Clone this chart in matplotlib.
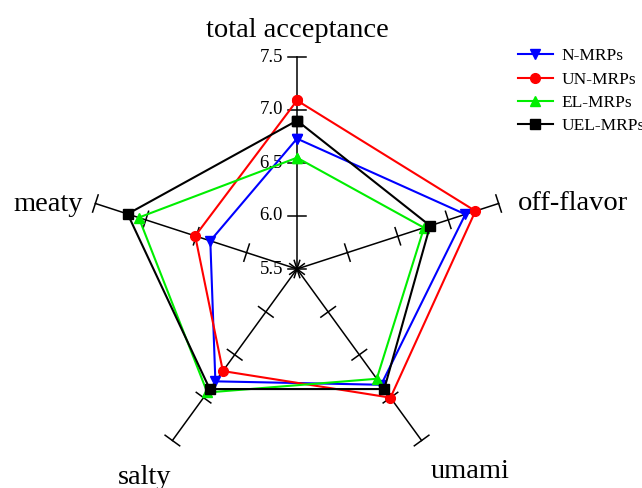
import numpy as np
import matplotlib
matplotlib.use("Agg")
import matplotlib.pyplot as plt

plt.rcParams['font.family'] = ['Liberation Serif', 'DejaVu Serif']

# data
attributes = ["total acceptance", "off-flavor", "umami", "salty", "meaty"]
n_mrps = [6.73, 7.17, 6.85, 6.81, 6.36]
un_mrps = [7.09, 7.27, 7.00, 6.69, 6.51]
el_mrps = [6.55, 6.76, 6.78, 6.94, 7.07]
uel_mrps = [6.90, 6.82, 6.90, 6.90, 7.18]
r_ticks = [5.5, 6.0, 6.5, 7.0, 7.5]
r_min, r_max = 5.5, 7.5

series = [
    ("N-MRPs", n_mrps, "blue", "v"),
    ("UN-MRPs", un_mrps, "red", "o"),
    ("EL-MRPs", el_mrps, "#00ee00", "^"),
    ("UEL-MRPs", uel_mrps, "black", "s"),
]

n = len(attributes)
angles = np.deg2rad(90 - 72 * np.arange(n))


def to_xy(vals):
    r = np.asarray(vals) - r_min
    return r * np.cos(angles), r * np.sin(angles)


fig = plt.figure(figsize=(6.42, 4.88), dpi=100)
ax = fig.add_axes([0, 0, 1, 1])
scale = 106.0  # px per unit
cx, cy = 297, 269
ax.set_xlim(-cx / scale, (642 - cx) / scale)
ax.set_ylim(-(488 - cy) / scale, cy / scale)
ax.axis("off")

R = r_max - r_min
tick_half = 9 / scale
for a in angles:
    ca, sa = np.cos(a), np.sin(a)
    ax.plot([0, R * ca], [0, R * sa], color="black", lw=1.1, zorder=1)
    px, py = -sa, ca
    for t in r_ticks:
        rr = t - r_min
        ax.plot([rr * ca - tick_half * px, rr * ca + tick_half * px],
                [rr * sa - tick_half * py, rr * sa + tick_half * py],
                color="black", lw=1.1, zorder=1)

# tick labels on top axis
for t in r_ticks:
    ax.text(-14 / scale, t - r_min, f"{t:.1f}", ha="right", va="center", fontsize=13.5)

# axis labels (baseline anchored)
label_pos = {
    "total acceptance": (0, 2.19, "center"),
    "off-flavor": (2.085, 0.557, "left"),
    "umami": (1.63, -1.97, "center"),
    "salty": (-1.434, -2.03, "center"),
    "meaty": (-2.02, 0.55, "right"),
}
for name in attributes:
    x, y, ha = label_pos[name]
    ax.text(x, y, name, ha=ha, va="baseline", fontsize=20.5)

for label, vals, color, marker in series:
    x, y = to_xy(vals)
    x = np.append(x, x[0])
    y = np.append(y, y[0])
    ax.plot(x, y, color=color, lw=1.5, marker=marker, markersize=7,
            label=label, zorder=3)

ax.legend(loc="upper left", bbox_to_anchor=(518 / 642, 1 - 48 / 488),
          frameon=False, fontsize=12.5, handlelength=2.0, labelspacing=0.42,
          borderaxespad=0, borderpad=0, handletextpad=0.5)

fig.savefig("out.png", dpi=100)
